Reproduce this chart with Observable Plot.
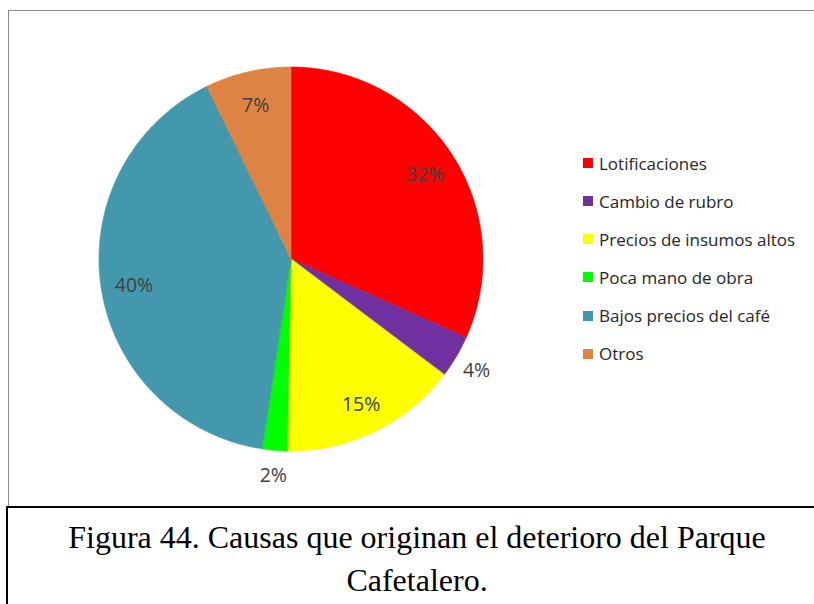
<!DOCTYPE html>
<html>
<head>
<meta charset="utf-8">
<script src="https://cdn.jsdelivr.net/npm/d3@7"></script>
<script src="https://cdn.jsdelivr.net/npm/@observablehq/plot@0.6"></script>
<style>
  html, body { margin: 0; background: #fff; overflow: hidden; }
  #wrap { position: relative; width: 814px; height: 604px; overflow: hidden; background: #fff; }
  .ln { position: absolute; }
  #fTop { left: 8px; top: 10px; width: 820px; height: 1px; background: #8a8a8a; }
  #fLeft { left: 8px; top: 10px; width: 1px; height: 496px; background: #8a8a8a; }
  #cTop { left: 6px; top: 506px; width: 820px; height: 2px; background: #000; }
  #cLeft { left: 6px; top: 506px; width: 2px; height: 100px; background: #000; }
  #chart { position: absolute; left: 0; top: 0; }
  #legend { position: absolute; left: 583px; top: 144px; font-family: "Open Sans", Lato, sans-serif; font-size: 17px; color: #262626; }
  .row { display: flex; align-items: center; height: 38.15px; white-space: nowrap; }
  .sw { width: 10px; height: 10px; margin-right: 6px; flex-shrink: 0; }
  #caption { position: absolute; left: 5px; top: 516px; width: 824px;
             font-family: "Liberation Serif", "Times New Roman", serif; font-size: 32px; line-height: 43px; text-align: center; color: #000; }
</style>
</head>
<body>
<div id="wrap">
  <div class="ln" id="fTop"></div>
  <div class="ln" id="fLeft"></div>
  <div id="chart"></div>
  <div id="legend"></div>
  <div class="ln" id="cTop"></div>
  <div class="ln" id="cLeft"></div>
  <div id="caption">Figura 44. Causas que originan el deterioro del Parque<br>Cafetalero.</div>
</div>
<script>
// ---- data ----
const categories = ["Lotificaciones", "Cambio de rubro", "Precios de insumos altos", "Poca mano de obra", "Bajos precios del café", "Otros"];
const values = [31.7, 3.6, 15.0, 2.1, 40.4, 7.2];
const colors = ["#FF0000", "#7030A0", "#FFFF00", "#00FF00", "#4398AE", "#DD8444"];

// ---- pie geometry from data ----
const total = d3.sum(values);
const slicePts = [];
const labels = [];
let cum = 0;
categories.forEach((cat, i) => {
  const a0 = cum / total * 2 * Math.PI;
  const a1 = (cum + values[i]) / total * 2 * Math.PI;
  const n = Math.max(2, Math.ceil((a1 - a0) / (Math.PI / 360)));
  for (let k = 0; k <= n; k++) {
    const t = a0 + (a1 - a0) * k / n;
    slicePts.push({cat, x: Math.sin(t), y: Math.cos(t), cx: 0, cy: 0});
  }
  const am = (a0 + a1) / 2;
  const f = values[i] < 5 ? 1.12 : 0.83;
  labels.push({cat, x: f * Math.sin(am), y: f * Math.cos(am), text: Math.round(values[i] / total * 100) + "%"});
  cum += values[i];
});

const chart = Plot.plot({
  width: 814,
  height: 505,
  margin: 0,
  x: {domain: [-1, 1], range: [99, 483], axis: null},
  y: {domain: [-1, 1], range: [451, 67], axis: null},
  color: {domain: categories, range: colors},
  style: {background: "transparent"},
  marks: [
    Plot.area(slicePts, {x1: "x", y1: "y", x2: "cx", y2: "cy", z: "cat", fill: "cat", stroke: "cat", strokeWidth: 0.6, curve: "linear"}),
    Plot.text(labels, {x: "x", y: "y", dy: 2, text: "text", fill: "#404040", fontSize: 19.5, fontFamily: "'Open Sans', Lato, sans-serif"})
  ]
});
document.getElementById("chart").appendChild(chart);

// ---- legend ----
const lg = document.getElementById("legend");
categories.forEach((cat, i) => {
  const row = document.createElement("div");
  row.className = "row";
  const sw = document.createElement("span");
  sw.className = "sw";
  sw.style.background = colors[i];
  const tx = document.createElement("span");
  tx.textContent = cat;
  row.appendChild(sw);
  row.appendChild(tx);
  lg.appendChild(row);
});
</script>
</body>
</html>
